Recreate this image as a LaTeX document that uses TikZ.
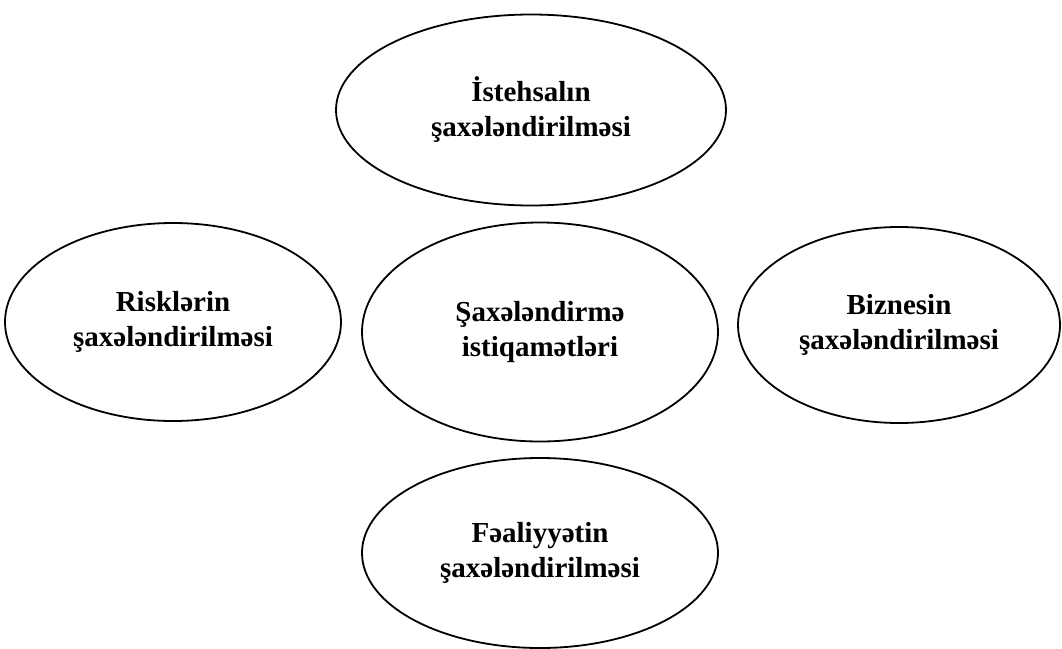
\documentclass[tikz,border=0pt]{standalone}
\usepackage{fontspec}
\setmainfont{Liberation Serif}
\usetikzlibrary{shapes.geometric}

\begin{document}
\begin{tikzpicture}[x=1pt,y=-1pt,
		area/.style={ellipse,draw,line width=1.8pt,inner sep=0pt,align=center,font=\fontsize{29}{35}\selectfont\bfseries}]
		\useasboundingbox (0,0) rectangle (1062,648);
		\node (prod)[area,minimum width=390pt,minimum height=191pt] at (531,110) {İstehsalın\\şaxələndirilməsi};
		\node (risk)[area,minimum width=336pt,minimum height=198pt] at (173,322) {Risklərin\\şaxələndirilməsi};
		\node (dirs)[area,minimum width=356pt,minimum height=219pt] at (540,332) {Şaxələndirmə\\istiqamətləri};
		\node (biz)[area,minimum width=322pt,minimum height=196pt] at (899,325) {Biznesin\\şaxələndirilməsi};
		\node (act)[area,minimum width=356pt,minimum height=190pt] at (540,553) {Fəaliyyətin\\şaxələndirilməsi};
	\end{tikzpicture}
\end{document}
